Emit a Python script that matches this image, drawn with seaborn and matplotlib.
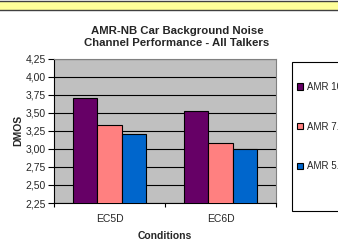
import matplotlib
matplotlib.use("Agg")
import matplotlib.pyplot as plt
import seaborn as sns
import pandas as pd
from matplotlib.patches import Rectangle
from matplotlib.ticker import FixedLocator, FuncFormatter

conditions = ["EC5D", "EC6D"]
series = ["AMR 10.2", "AMR 7.4", "AMR 5.9"]
amr_102 = [3.70, 3.52]
amr_74 = [3.33, 3.08]
amr_59 = [3.20, 3.00]
colors = ["#660066", "#FF8080", "#0066CC"]

rows = []
for s, vals in zip(series, [amr_102, amr_74, amr_59]):
    for c, v in zip(conditions, vals):
        rows.append({"Conditions": c, "Series": s, "DMOS": v})
df = pd.DataFrame(rows)

sns.set_style("white")
plt.rcParams["font.family"] = ["Liberation Sans", "DejaVu Sans"]

fig = plt.figure(figsize=(3.38, 2.45), dpi=100)
W, H = 338, 245
ax = fig.add_axes([54 / W, 1 - 203 / H, (276 - 54) / W, (203 - 58.5) / H])
ax.set_facecolor("#C0C0C0")

sns.barplot(data=df, x="Conditions", y="DMOS", hue="Series", palette=colors,
            saturation=1, width=0.66, edgecolor="black", linewidth=0.8, ax=ax,
            legend=True, zorder=3)

ax.set_ylim(2.25, 4.25)
ax.set_xlim(-0.5, 1.5)
yt = [2.25 + 0.25 * i for i in range(9)]
ax.yaxis.set_major_locator(FixedLocator(yt))
ax.yaxis.set_major_formatter(FuncFormatter(lambda v, p: f"{v:.2f}".replace(".", ",")))
ax.grid(axis="y", color="black", linewidth=0.8, zorder=0)
ax.set_axisbelow(True)

ax.set_xticks([0, 1])
ax.set_xticklabels(conditions)
ax.xaxis.set_minor_locator(FixedLocator([-0.5, 0.5, 1.5]))
ax.tick_params(axis="x", which="major", length=0, labelsize=7.5, pad=8)
ax.tick_params(axis="x", which="minor", length=3, width=0.8, color="black", direction="out", bottom=True)
ax.tick_params(axis="y", length=4, width=0.8, color="black", direction="out", left=True, labelsize=7.5, pad=2)

for side in ["left", "bottom"]:
    ax.spines[side].set_color("black")
    ax.spines[side].set_linewidth(0.8)
for side in ["top", "right"]:
    ax.spines[side].set_color("#808080")
    ax.spines[side].set_linewidth(0.8)

ax.set_xlabel("Conditions", fontsize=7.5, fontweight="bold", labelpad=5)
ax.set_ylabel("DMOS", fontsize=7.5, fontweight="bold", labelpad=1.5)
fig.text(177 / W, 1 - 36.5 / H, "AMR-NB Car Background Noise\nChannel Performance - All Talkers",
         ha="center", va="center", fontsize=8.2, fontweight="bold", linespacing=1.25)

# legend
handles, labels = ax.get_legend_handles_labels()
ax.get_legend().remove()
leg = fig.legend(handles, labels, loc="upper left", bbox_to_anchor=(297 / W, 1 - 82 / H),
                 frameon=False, fontsize=7, handlelength=0.6, handleheight=0.6,
                 handletextpad=0.4, labelspacing=3.05, borderpad=0, borderaxespad=0)
fig.patches.append(Rectangle((292 / W, 1 - 211 / H), 60 / W, (211 - 62) / H,
                             transform=fig.transFigure, facecolor="white",
                             edgecolor="black", linewidth=0.8, zorder=0))

# yellow strip on top
fig.patches.append(Rectangle((-0.01, 1 - 10.5 / H), 1.02, 9.5 / H,
                             transform=fig.transFigure, facecolor="#FFFF99",
                             edgecolor="#404040", linewidth=1.0, zorder=0))

fig.savefig("out.png", dpi=100)
